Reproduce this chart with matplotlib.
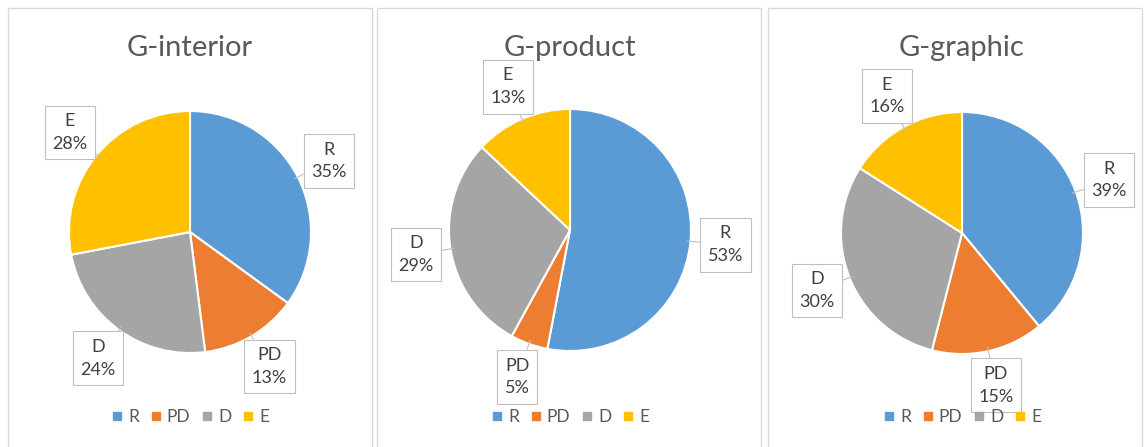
import matplotlib
matplotlib.use('Agg')
import matplotlib.pyplot as plt
import numpy as np
from matplotlib.patches import Rectangle
from matplotlib.lines import Line2D

plt.rcParams['font.family'] = ['Lato', 'DejaVu Sans']

# data (percent)
categories = ['R', 'PD', 'D', 'E']
titles = ['G-interior', 'G-product', 'G-graphic']
interior = [35, 13, 24, 28]
product = [53, 5, 29, 13]
graphic = [39, 15, 30, 16]
colors = ['#5B9BD5', '#ED7D31', '#A5A5A5', '#FFC000']

W, H = 1148, 447
fig = plt.figure(figsize=(W / 100, H / 100), dpi=100)

# panel frames (left, right) and pie centres, in pixels
panels = [(8, 372), (377, 761), (768, 1142)]
centres = [(190, 232), (570, 230), (962, 233)]
R_PX = 121
side = 2.5 * R_PX

for (x0, x1), (cx, cy), title, values in zip(panels, centres, titles, [interior, product, graphic]):
    fig.patches.append(Rectangle((x0 / W, -0.05), (x1 - x0) / W, 1.05 - 8 / H,
                                 transform=fig.transFigure, fill=False,
                                 edgecolor='#D9D9D9', lw=1))

    ax = fig.add_axes([(cx - side / 2) / W, (H - cy - side / 2) / H, side / W, side / H])
    wedges, _ = ax.pie(values, colors=colors, startangle=90, counterclock=False,
                       wedgeprops=dict(edgecolor='white', linewidth=1.5))
    ax.set_xlim(-1.25, 1.25)
    ax.set_ylim(-1.25, 1.25)

    # callout labels
    for w, cat, v in zip(wedges, categories, values):
        ang = np.deg2rad((w.theta1 + w.theta2) / 2)
        c, s = np.cos(ang), np.sin(ang)
        ax.annotate(f'{cat}\n{v}%', xy=(0.97 * c, 0.97 * s), xytext=(1.29 * c, 1.29 * s),
                    ha='center', va='center', multialignment='center',
                    fontsize=13, linespacing=1.5, color='#404040',
                    bbox=dict(boxstyle='square,pad=0.42', fc='white', ec='#BFBFBF', lw=0.8),
                    arrowprops=dict(arrowstyle='-', color='#BFBFBF', lw=0.8,
                                    shrinkA=0, shrinkB=0))

    fig.text(cx / W, (H - 48) / H, title, ha='center', va='center',
             fontsize=21, color='#595959')

    handles = [Line2D([], [], marker='s', ls='', color=col, markersize=6) for col in colors]
    fig.legend(handles, categories, loc='center', bbox_to_anchor=(cx / W, (H - 417) / H),
               ncol=4, frameon=False, fontsize=12.5, handlelength=0.7, handletextpad=0.3,
               columnspacing=0.6, labelcolor='#595959')

fig.savefig('out.png', dpi=100)
